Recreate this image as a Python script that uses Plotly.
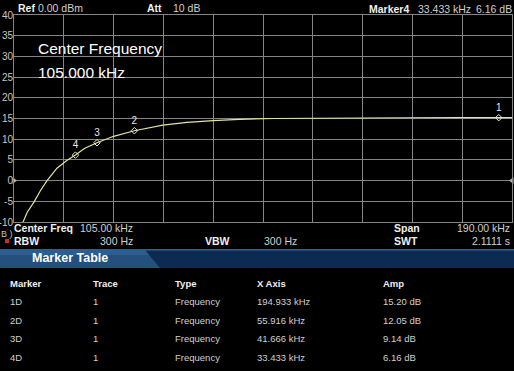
import plotly.graph_objects as go

# ---------------- data ----------------
curve_freq_khz = [10.0, 12.0, 13.4, 15.0, 17.6, 20.0, 22.6, 26.4, 30.0, 33.433, 37.0,
                  41.666, 48.0, 55.916, 66.8, 76.0, 86.0, 96.0, 109.0, 124.0, 140.0,
                  160.0, 180.0, 194.933, 200.0]
curve_db = [-18.0, -12.5, -10.1, -7.7, -5.2, -2.5, 0.0, 3.0, 4.8, 6.16, 7.8,
            9.14, 10.7, 12.05, 13.4, 14.05, 14.5, 14.8, 15.0, 15.1, 15.15,
            15.18, 15.2, 15.2, 15.2]

marker_ids = ["1D", "2D", "3D", "4D"]
marker_nums = ["1", "2", "3", "4"]
marker_trace = ["1", "1", "1", "1"]
marker_type = ["Frequency", "Frequency", "Frequency", "Frequency"]
marker_freq_khz = [194.933, 55.916, 41.666, 33.433]
marker_amp_db = [15.20, 12.05, 9.14, 6.16]

table_headers = ["Marker", "Trace", "Type", "X Axis", "Amp"]

center_freq_khz = 105.0
span_khz = 190.0
y_ticks = [40, 35, 30, 25, 20, 15, 10, 5, 0, -5, -10]

# ---------------- geometry helpers (pixel -> paper) ----------------
L, T, W, H = 14, 15, 498, 207
FIG_W, FIG_H = 514, 371


def px(x):
    return (x - L) / W


def py(y):
    return (T + H - y) / H


FONT = "Arial"
fig = go.Figure()

fig.add_trace(go.Scatter(
    x=curve_freq_khz, y=curve_db, mode="lines",
    line=dict(color="#e4e49c", width=1.2), hoverinfo="skip", showlegend=False))

fig.add_trace(go.Scatter(
    x=marker_freq_khz, y=marker_amp_db, mode="markers+text",
    marker=dict(symbol="diamond-open", size=5, color="#e8e8c8", line=dict(width=1)),
    text=marker_nums, textposition="top center",
    textfont=dict(family=FONT, size=10, color="#e8e8e8"),
    showlegend=False, cliponaxis=False, hoverinfo="skip"))

fmin = center_freq_khz - span_khz / 2
fmax = center_freq_khz + span_khz / 2

# reference level arrows at 0 dB
fig.add_trace(go.Scatter(
    x=[fmin, fmax], y=[0, 0], mode="markers",
    marker=dict(symbol=["triangle-right", "triangle-left"], size=6, color="#b0b0b0"),
    cliponaxis=False, showlegend=False, hoverinfo="skip"))

fig.update_xaxes(range=[fmin, fmax], dtick=span_khz / 10, tick0=fmin, automargin=False,
                 showticklabels=False, showgrid=True, gridcolor="#858585", gridwidth=1,
                 zeroline=False, showline=True, linecolor="#858585", mirror=True, ticks="")
fig.update_yaxes(range=[-10, 40], tickvals=y_ticks, ticktext=[str(v) for v in y_ticks],
                 automargin=False,
                 showgrid=True, gridcolor="#858585", gridwidth=1, zeroline=False,
                 showline=True, linecolor="#858585", mirror=True, ticks="",
                 tickfont=dict(family=FONT, size=10, color="#c8c8c8"),
                 ticklabelstandoff=-2)

ann = []


def txt(x, y, s, size=11, color="#e0e0e0", bold=False, anchor="left"):
    if bold:
        s = "<b>" + s + "</b>"
    ann.append(dict(x=px(x), y=py(y), xref="paper", yref="paper", text=s,
                    showarrow=False, xanchor=anchor, yanchor="middle",
                    font=dict(family=FONT, size=size, color=color)))


# top header
txt(16, 8, "Ref", 10.5, "#f0f0f0", True)
txt(36, 8, "0.00 dBm", 10.5, "#d0d0d0")
txt(145, 8, "Att", 10.5, "#f0f0f0", True)
txt(171, 8, "10 dB", 10.5, "#d0d0d0")
txt(367, 9, "Marker4", 10.5, "#f0f0f0", True)
txt(416, 9, f"{marker_freq_khz[3]:.3f} kHz", 10.5, "#d0d0d0")
txt(474, 9, f"{marker_amp_db[3]:.2f} dB", 10.5, "#d0d0d0")

# center frequency overlay
txt(36, 48, "Center Frequency", 15.5, "#ffffff")
txt(36, 72, f"{center_freq_khz:.3f} kHz", 15.5, "#ffffff")

# bottom info
txt(12, 228, "Center Freq", 10.5, "#f0f0f0", True)
txt(135, 228, f"{center_freq_khz:.2f} kHz", 10.5, "#d0d0d0", anchor="right")
txt(392, 228, "Span", 10.5, "#f0f0f0", True)
txt(512, 228, f"{span_khz:.2f} kHz", 10.5, "#d0d0d0", anchor="right")
txt(12, 241, "RBW", 10.5, "#f0f0f0", True)
txt(135, 241, "300 Hz", 10.5, "#d0d0d0", anchor="right")
txt(203, 241, "VBW", 10.5, "#f0f0f0", True)
txt(262, 241, "300 Hz", 10.5, "#d0d0d0")
txt(392, 241, "SWT", 10.5, "#f0f0f0", True)
txt(512, 241, "2.1111 s", 10.5, "#d0d0d0", anchor="right")
txt(-1, 234, "B )", 9, "#c0c0c0")

# marker table band
txt(30, 258, "Marker Table", 12.5, "#ffffff", True)

col_x = [8, 91, 173, 255, 381]
txt_rows_y = [301, 320, 338, 357]
for cx, h in zip(col_x, table_headers):
    txt(cx, 283, h, 9.5, "#f0f0f0", True)
for i in range(len(marker_ids)):
    row = [marker_ids[i], marker_trace[i], marker_type[i],
           f"{marker_freq_khz[i]:.3f} kHz", f"{marker_amp_db[i]:.2f} dB"]
    for cx, s in zip(col_x, row):
        txt(cx, txt_rows_y[i], s, 9.5, "#d0d0d0")

shapes = []
# band background
shapes.append(dict(type="rect", xref="paper", yref="paper", x0=px(0), x1=px(514),
                   y0=py(268), y1=py(249), fillcolor="#0d2a52", line=dict(width=0), layer="below"))
shapes.append(dict(type="rect", xref="paper", yref="paper", x0=px(0), x1=px(514),
                   y0=py(250.5), y1=py(249), fillcolor="#3a5f8a", line=dict(width=0), layer="below"))
# tab with slanted edge
path = "M {} {} L {} {} L {} {} L {} {} Z".format(
    px(0), py(249), px(144), py(249), px(160), py(268), px(0), py(268))
shapes.append(dict(type="path", xref="paper", yref="paper", path=path,
                   fillcolor="#24507e", line=dict(width=0), layer="below"))
path2 = "M {} {} L {} {} L {} {} L {} {} Z".format(
    px(0), py(249), px(144), py(249), px(149), py(255), px(0), py(255))
shapes.append(dict(type="path", xref="paper", yref="paper", path=path2,
                   fillcolor="#2e5d8f", line=dict(width=0), layer="below"))
# RBW red indicator
shapes.append(dict(type="rect", xref="paper", yref="paper", x0=px(5), x1=px(9),
                   y0=py(243), y1=py(239), fillcolor="#c83030", line=dict(width=0)))

fig.update_layout(
    width=FIG_W, height=FIG_H,
    margin=dict(l=L, r=FIG_W - L - W, t=T, b=FIG_H - T - H, autoexpand=False),
    paper_bgcolor="#000000", plot_bgcolor="#000000",
    annotations=ann, shapes=shapes, showlegend=False,
)

fig.write_html("out.html", config={"displayModeBar": False},
               post_script="document.body.style.margin='0';document.body.style.background='#000';")
